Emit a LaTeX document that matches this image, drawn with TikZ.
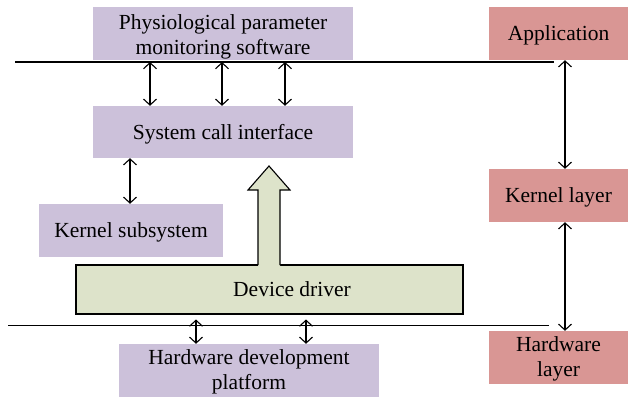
\documentclass[tikz,border=0pt]{standalone}
\usepackage{fontspec}
\setmainfont{Liberation Serif}
\usetikzlibrary{arrows.meta}
\definecolor{softpurple}{HTML}{CCC1DA}
\definecolor{softred}{HTML}{D99694}
\definecolor{softgreen}{HTML}{DDE3CA}
% invisible strut that sets the height of a first text line
\newcommand{\lineprop}[1]{\rule{0pt}{#1}}
\tikzset{
  layerbox/.style={fill=#1, draw=none, inner sep=0pt, align=center,
    font=\fontsize{21.5}{25}\selectfont},
  oneline/.style={text height=18pt, text depth=4pt},
  link/.style={line width=1.1pt, {Straight Barb[length=6pt,width=13pt]}-{Straight Barb[length=6pt,width=13pt]}},
  rule/.style={line width=1.1pt},
  lbl/.style={font=\fontsize{21.5}{25}\selectfont, inner sep=0pt}
}
\begin{document}
\begin{tikzpicture}[x=1pt,y=-1pt]
\useasboundingbox (0,0) rectangle (636,397);

% left column boxes
\node[layerbox=softpurple, minimum width=260pt, minimum height=53pt] (app-sw) at (223,33.5)
  {\lineprop{21.5pt}Physiological parameter\\monitoring software};
\node[layerbox=softpurple, oneline, minimum width=260pt, minimum height=52pt] (sci) at (223,132)
  {System call interface};
\node[layerbox=softpurple, oneline, minimum width=184pt, minimum height=53pt] (ksub) at (131,230.5)
  {Kernel subsystem};
\node[layerbox=softpurple, minimum width=260pt, minimum height=53pt] (hwdev) at (249,370.5)
  {\lineprop{17.5pt}Hardware development\\platform};

% device driver block with upward arrow
\node[draw, line width=1.1pt, fill=softgreen, minimum width=387pt, minimum height=49pt, inner sep=0pt] (drv) at (269.5,289.5) {};
\node[lbl, oneline] (drvtext) at (292,289) {Device driver};
\fill[softgreen] (258,266) -- (258,190) -- (248,190) -- (269,166) -- (290,190) -- (280,190) -- (280,266) -- cycle;
\draw[line width=1.1pt, line join=miter] (258,265) -- (258,190) -- (248,190) -- (269,166) -- (290,190) -- (280,190) -- (280,265);

% right column boxes
\node[layerbox=softred, oneline, minimum width=139pt, minimum height=53pt] (app) at (558.5,33.5) {Application};
\node[layerbox=softred, oneline, minimum width=139pt, minimum height=53pt] (kl) at (558.5,195.5) {Kernel layer};
\node[layerbox=softred, minimum width=139pt, minimum height=53pt] (hwl) at (558.5,357.5) {\lineprop{18.5pt}Hardware\\layer};

% boundary lines
\coordinate (topL) at (15,62);
\coordinate (topR) at (554,62);
\coordinate (botL) at (8,325.5);
\coordinate (botR) at (549,325.5);
\draw[rule] (topL) -- (topR);
\draw[rule] (botL) -- (botR);

% arrows between software and system call interface
\foreach \x [count=\i] in {150,222,285} {
  \coordinate (t\i) at (\x,62);
  \draw[link] (t\i) -- (t\i |- sci.north);
}
% system call interface to kernel subsystem
\coordinate (k1) at (130,0);
\draw[link] (sci.south -| k1) -- (ksub.north -| k1);

% driver to hardware platform
\foreach \x [count=\i] in {196,306} {
  \coordinate (b\i) at (\x,319.5);
  \draw[link] (b\i) -- (b\i |- hwdev.north);
}

% right column links
\coordinate (r1) at (565,0);
\draw[link] (app.south -| r1) -- (kl.north -| r1);
\draw[link] (kl.south -| r1) -- (hwl.north -| r1);
\end{tikzpicture}
\end{document}
